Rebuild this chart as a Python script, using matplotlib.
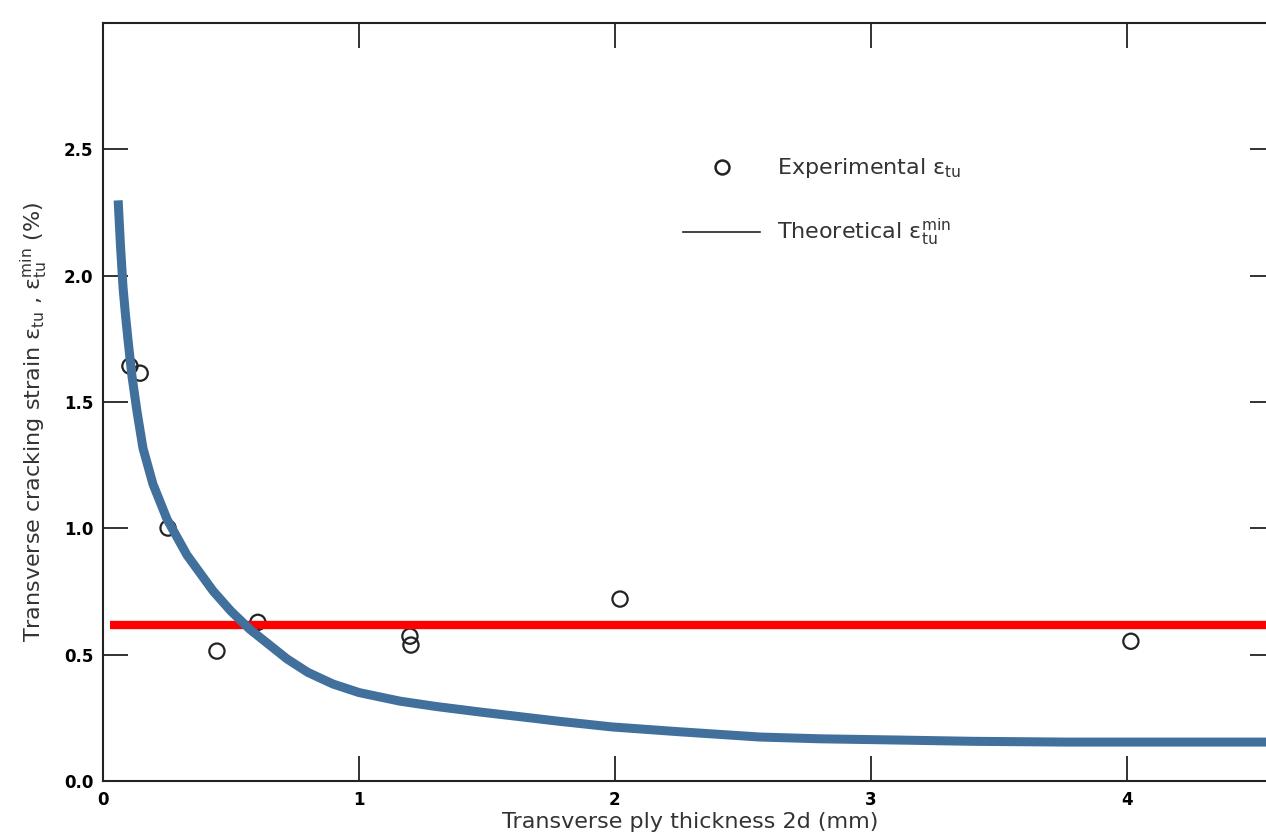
import matplotlib
matplotlib.use("Agg")
import matplotlib.pyplot as plt
from matplotlib.lines import Line2D

# experimental points
exp_x = [0.105, 0.145, 0.254, 0.445, 0.605, 1.199, 1.203, 2.02, 4.016]
exp_y = [1.642, 1.614, 1.001, 0.514, 0.628, 0.573, 0.538, 0.72, 0.553]

curve_x = [0.059, 0.068, 0.078, 0.088, 0.098, 0.113, 0.133, 0.156, 0.195, 0.25,
           0.328, 0.43, 0.5, 0.574, 0.719, 0.8, 0.898, 1.0, 1.16, 1.3, 1.473, 1.6,
           1.785, 1.988, 2.25, 2.566, 2.8, 3.113, 3.4, 3.762, 4.6]
curve_y = [2.298, 2.12, 1.954, 1.84, 1.741, 1.602, 1.46, 1.317, 1.175, 1.036,
           0.894, 0.752, 0.672, 0.60, 0.483, 0.43, 0.384, 0.35, 0.316, 0.295, 0.273, 0.258,
           0.236, 0.214, 0.195, 0.174, 0.167, 0.162, 0.157, 0.154, 0.154]

# red horizontal level
red_level = 0.617
red_x = [0.027, 4.6]

xticks = [0, 1, 2, 3, 4]
yticks = [0.0, 0.5, 1.0, 1.5, 2.0, 2.5]

fig = plt.figure(figsize=(12.66, 8.36), dpi=100)
ax = fig.add_axes([0.0814, 0.0658, 0.9259, 0.9067])

ax.scatter(exp_x, exp_y, s=120, facecolors="none", edgecolors="#222222", linewidths=1.6, zorder=3)
ax.plot(red_x, [red_level, red_level], color="#ff0000", lw=6, solid_capstyle="butt", zorder=4)
ax.plot(curve_x, curve_y, color="#41709d", lw=6.5, solid_capstyle="butt",
        solid_joinstyle="round", zorder=5)

ax.set_xlim(0, 4.58)
ax.set_ylim(0, 3.0)
ax.set_xticks(xticks)
ax.set_xticklabels([str(t) for t in xticks], fontweight="bold", fontsize=12)
ax.set_yticks(yticks)
ax.set_yticklabels(["%.1f" % t for t in yticks], fontweight="bold", fontsize=12)
ax.tick_params(direction="in", length=18, width=1.3, color="#222222",
               top=True, right=True, pad=7)

for s in ax.spines.values():
    s.set_color("#222222")
    s.set_linewidth(1.5)

ax.set_xlabel("Transverse ply thickness 2d (mm)", fontsize=16, color="#333333")
ax.xaxis.set_label_coords(0.501, -0.041)
ax.set_ylabel(r"Transverse cracking strain $\mathrm{\varepsilon_{tu}}$ , $\mathrm{\varepsilon_{tu}^{min}}$ (%)",
              fontsize=16, color="#333333")
ax.yaxis.set_label_coords(-0.045, 0.474)

handles = [
    Line2D([], [], ls="none", marker="o", markersize=10, markerfacecolor="none",
           markeredgecolor="#222222", markeredgewidth=1.8),
    Line2D([], [], color="#222222", lw=1.2),
]
labels = [r"Experimental $\mathrm{\varepsilon_{tu}}$", r"Theoretical $\mathrm{\varepsilon_{tu}^{min}}$"]
ax.legend(handles, labels, loc="upper left", bbox_to_anchor=(0.495, 0.824), frameon=False,
          fontsize=16, handlelength=3.45, handletextpad=0.75, labelspacing=1.65,
          borderpad=0, borderaxespad=0, labelcolor="#333333")

fig.savefig("out.png", dpi=100)
